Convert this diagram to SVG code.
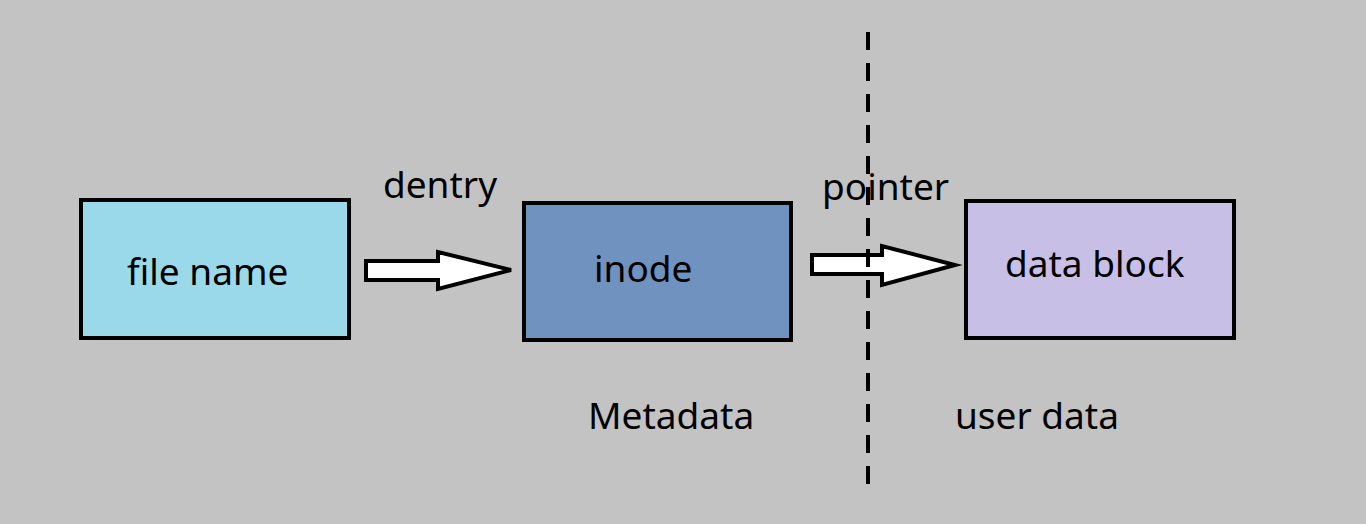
<svg xmlns="http://www.w3.org/2000/svg" width="1366" height="524" viewBox="0 0 1366 524">
<style>
.box{stroke:#000;stroke-width:4}
.lbl{font-family:"Noto Sans","Open Sans","DejaVu Sans",sans-serif;font-size:37px;fill:#000}
.arrow{fill:#fff;stroke:#000;stroke-width:4;stroke-linejoin:miter}
</style>
<rect x="0" y="0" width="1366" height="524" fill="#c3c3c3"/>
<g id="connectors">
<polygon class="arrow" points="366,261 438,261 438,252 511,270 438,289 438,280 366,280"/>
<polygon class="arrow" points="812,255 882,255 882,246 955,265 882,285 882,274 812,274"/>
<line x1="868" y1="32" x2="868" y2="488" stroke="#000" stroke-width="4" stroke-dasharray="18 13"/>
</g>
<g id="filename">
<rect class="box" x="81" y="200" width="268" height="138" fill="#99d9ea"/>
<text class="lbl" x="127" y="285">file name</text>
</g>
<g id="inode">
<rect class="box" x="524" y="203" width="267" height="137" fill="#7092be"/>
<text class="lbl" x="594" y="282">inode</text>
</g>
<g id="datablock">
<rect class="box" x="966" y="201" width="268" height="137" fill="#c8bfe7"/>
<text class="lbl" x="1005" y="277">data block</text>
</g>
<text class="lbl" x="383" y="198">dentry</text>
<text class="lbl" x="822" y="200">pointer</text>
<text class="lbl" x="588" y="429">Metadata</text>
<text class="lbl" x="955" y="429">user data</text>
</svg>
